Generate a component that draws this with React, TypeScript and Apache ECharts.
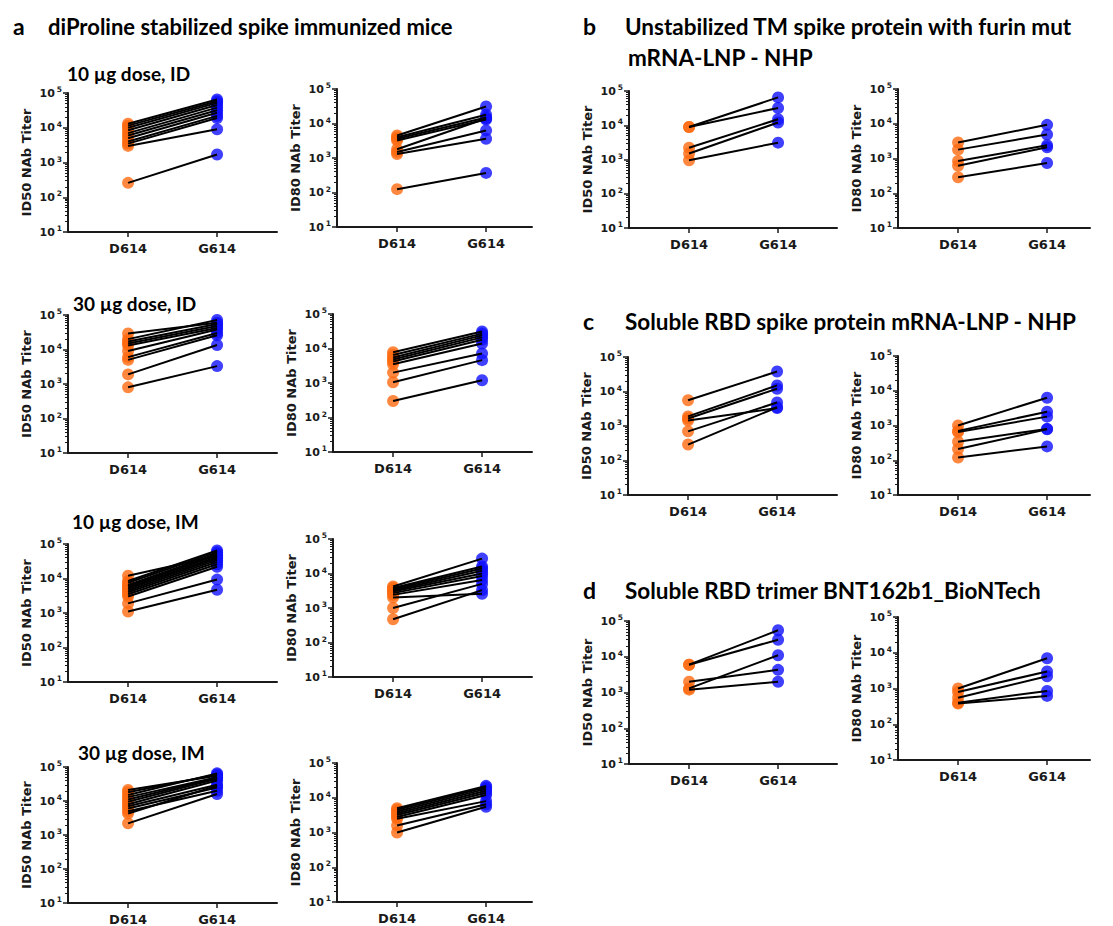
import React, { useEffect, useRef } from 'react';
import * as echarts from 'echarts';

// ---------- data ----------
const categories = ['D614', 'G614'];
const yTickValues = [10, 100, 1000, 10000, 100000];
const yMinorTickValues = [
  20, 30, 40, 50, 60, 70, 80, 90,
  200, 300, 400, 500, 600, 700, 800, 900,
  2000, 3000, 4000, 5000, 6000, 7000, 8000, 9000,
  20000, 30000, 40000, 50000, 60000, 70000, 80000, 90000,
];

// a: diProline stabilized spike immunized mice
const a10ID_ID50_D614 = [13000, 11500, 10000, 8500, 7000, 6000, 5000, 4000, 3500, 3000, 260];
const a10ID_ID50_G614 = [65000, 58000, 52000, 45000, 38000, 32000, 27000, 22000, 19000, 9000, 1700];
const a10ID_ID80_D614 = [4500, 4000, 3600, 3200, 1800, 1500, 1300, 125];
const a10ID_ID80_G614 = [31000, 18000, 15000, 13000, 14000, 6300, 3600, 370];
const a30ID_ID50_D614 = [29000, 20000, 17000, 15000, 13000, 9000, 6000, 5000, 1900, 800];
const a30ID_ID50_G614 = [60000, 72000, 55000, 48000, 42000, 38000, 30000, 26000, 13500, 3300];
const a30ID_ID80_D614 = [7800, 6500, 5500, 4800, 4200, 3500, 2000, 1050, 300];
const a30ID_ID80_G614 = [31000, 27000, 24000, 21000, 18000, 14000, 7200, 4600, 1200];
const a10IM_ID50_D614 = [12000, 8500, 7500, 6500, 6000, 5500, 5000, 4500, 4000, 3500, 3000, 1900, 1100];
const a10IM_ID50_G614 = [45000, 65000, 58000, 52000, 47000, 42000, 38000, 34000, 30000, 26000, 22000, 9300, 4700];
const a10IM_ID80_D614 = [4200, 3800, 3500, 3200, 3000, 2700, 2400, 2000, 1000, 470];
const a10IM_ID80_G614 = [27000, 16000, 14000, 12000, 10000, 8500, 6500, 2600, 5000, 3300];
const a30IM_ID50_D614 = [21000, 18000, 15000, 13000, 11000, 9500, 8000, 7000, 6000, 5000, 4300, 2200];
const a30IM_ID50_G614 = [55000, 60000, 65000, 50000, 48000, 45000, 40000, 30000, 25000, 20000, 28000, 16000];
const a30IM_ID80_D614 = [5000, 4500, 4000, 3600, 3200, 2800, 2500, 1600, 1000];
const a30IM_ID80_G614 = [22000, 20000, 18000, 16000, 14000, 12000, 8000, 6500, 5500];
// b: Unstabilized TM spike protein with furin mut mRNA-LNP - NHP
const bID50_D614 = [8900, 8900, 2200, 1500, 950];
const bID50_G614 = [65000, 32000, 15000, 12000, 3100];
const bID80_D614 = [2900, 1800, 850, 620, 290];
const bID80_G614 = [9300, 4900, 2400, 2100, 740];
// c: Soluble RBD spike protein mRNA-LNP - NHP
const cID50_D614 = [5600, 1900, 1650, 1450, 700, 290];
const cID50_G614 = [38000, 15000, 12000, 3300, 4800, 3500];
const cID80_D614 = [1000, 700, 650, 340, 210, 120];
const cID80_G614 = [6300, 2500, 1800, 800, 780, 250];
// d: Soluble RBD trimer BNT162b1_BioNTech
const dID50_D614 = [6000, 6000, 2000, 1300, 1200];
const dID50_G614 = [55000, 30000, 4300, 11000, 2000];
const dID80_D614 = [1000, 800, 550, 400, 380];
const dID80_G614 = [7000, 3000, 2200, 850, 620];

// ---------- layout ----------
const ORANGE = '#ff6a10';
const BLUE = '#1010ff';
const AXIS_FONT = 'DejaVu Sans';
const TITLE_FONT = 'Lato';

type Panel = { d: number[]; g: number[]; yName: string; box: [number, number, number, number] };

const panels: Panel[] = [
  { d: a10ID_ID50_D614, g: a10ID_ID50_G614, yName: 'ID50 NAb Titer', box: [68, 93, 209, 139] },
  { d: a10ID_ID80_D614, g: a10ID_ID80_G614, yName: 'ID80 NAb Titer', box: [337, 89, 195, 138] },
  { d: a30ID_ID50_D614, g: a30ID_ID50_G614, yName: 'ID50 NAb Titer', box: [68, 315, 209, 138] },
  { d: a30ID_ID80_D614, g: a30ID_ID80_G614, yName: 'ID80 NAb Titer', box: [333, 314, 199, 138] },
  { d: a10IM_ID50_D614, g: a10IM_ID50_G614, yName: 'ID50 NAb Titer', box: [68, 544, 209, 138] },
  { d: a10IM_ID80_D614, g: a10IM_ID80_G614, yName: 'ID80 NAb Titer', box: [333, 539, 199, 138] },
  { d: a30IM_ID50_D614, g: a30IM_ID50_G614, yName: 'ID50 NAb Titer', box: [68, 767, 209, 140] },
  { d: a30IM_ID80_D614, g: a30IM_ID80_G614, yName: 'ID80 NAb Titer', box: [337, 763, 195, 139] },
  { d: bID50_D614, g: bID50_G614, yName: 'ID50 NAb Titer', box: [629, 91, 208, 137] },
  { d: bID80_D614, g: bID80_G614, yName: 'ID80 NAb Titer', box: [898, 89, 192, 139] },
  { d: cID50_D614, g: cID50_G614, yName: 'ID50 NAb Titer', box: [628, 357, 209, 138] },
  { d: cID80_D614, g: cID80_G614, yName: 'ID80 NAb Titer', box: [898, 356, 192, 139] },
  { d: dID50_D614, g: dID50_G614, yName: 'ID50 NAb Titer', box: [629, 621, 208, 143] },
  { d: dID80_D614, g: dID80_G614, yName: 'ID80 NAb Titer', box: [898, 617, 192, 143] },
];

const texts: { t: string; x: number; y: number; size: number }[] = [
  { t: 'a', x: 13, y: 26, size: 23 },
  { t: 'diProline stabilized spike immunized mice', x: 48, y: 26, size: 22 },
  { t: 'b', x: 583, y: 26, size: 23 },
  { t: 'Unstabilized TM spike protein with furin mut', x: 625, y: 26, size: 22.5 },
  { t: 'mRNA-LNP - NHP', x: 628, y: 57, size: 22.5 },
  { t: 'c', x: 583, y: 321, size: 23 },
  { t: 'Soluble RBD spike protein mRNA-LNP - NHP', x: 625, y: 321, size: 22.5 },
  { t: 'd', x: 583, y: 590, size: 23 },
  { t: 'Soluble RBD trimer BNT162b1_BioNTech', x: 625, y: 590, size: 22.5 },
  { t: '10 µg dose, ID', x: 67, y: 73, size: 19 },
  { t: '30 µg dose, ID', x: 73, y: 303, size: 19 },
  { t: '10 µg dose, IM', x: 72, y: 521, size: 19 },
  { t: '30 µg dose, IM', x: 78, y: 752, size: 19 },
];

function buildOption() {
  const grid: any[] = [];
  const xAxis: any[] = [];
  const yAxis: any[] = [];
  const minorAxes: any[] = [];
  const series: any[] = [];
  const XMIN = -0.675;
  const UNIT = 89;
  panels.forEach((p, i) => {
    const [left, top, width, height] = p.box;
    grid.push({ left, top, width, height, containLabel: false });
    xAxis.push({
      type: 'value',
      gridIndex: i,
      min: XMIN,
      max: width / UNIT + XMIN,
      splitLine: { show: false },
      axisLine: { show: true, onZero: false, lineStyle: { color: '#1a1a1a', width: 2 } },
      axisTick: { show: true, customValues: [0, 1], length: 5, lineStyle: { color: '#1a1a1a', width: 1.5 } },
      axisLabel: {
        show: true,
        customValues: [0, 1],
        formatter: (v: number) => categories[Math.round(v)] ?? '',
        fontFamily: AXIS_FONT,
        fontWeight: 'bold',
        fontSize: 13,
        color: '#1a1a1a',
        margin: 10,
      },
    });
    yAxis.push({
      type: 'log',
      logBase: 10,
      gridIndex: i,
      position: 'left',
      min: yTickValues[0],
      max: yTickValues[yTickValues.length - 1],
      name: p.yName,
      nameLocation: 'middle',
      nameGap: 35,
      nameRotate: 90,
      nameTextStyle: { fontFamily: AXIS_FONT, fontWeight: 'bold', fontSize: 13, color: '#1a1a1a' },
      splitLine: { show: false },
      axisLine: { show: true, onZero: false, lineStyle: { color: '#1a1a1a', width: 2 } },
      axisTick: { show: true, length: 5, lineStyle: { color: '#1a1a1a', width: 1.5 } },
      axisLabel: {
        formatter: (v: number) => '10{s|' + Math.round(Math.log10(v)) + '}',
        fontFamily: AXIS_FONT,
        fontWeight: 'bold',
        fontSize: 11,
        color: '#1a1a1a',
        margin: 6,
        rich: {
          s: { fontFamily: AXIS_FONT, fontWeight: 'bold', fontSize: 7.5, color: '#1a1a1a', verticalAlign: 'top', padding: [0, 0, 7, 2] },
        },
      },
    });
    // minor ticks axis (same grid, same scale, ticks only)
    minorAxes.push({
      type: 'log',
      logBase: 10,
      gridIndex: i,
      position: 'left',
      offset: 0,
      min: yTickValues[0],
      max: yTickValues[yTickValues.length - 1],
      splitLine: { show: false },
      axisLine: { show: false, onZero: false },
      axisTick: { show: true, customValues: yMinorTickValues, length: 3, lineStyle: { color: '#1a1a1a', width: 1 } },
      axisLabel: { show: false },
    });
    // points
    series.push({
      type: 'scatter',
      xAxisIndex: i,
      yAxisIndex: i,
      symbol: 'circle',
      symbolSize: 12,
      z: 2,
      itemStyle: { color: ORANGE },
      data: p.d.map((v) => [0, v]),
    });
    series.push({
      type: 'scatter',
      xAxisIndex: i,
      yAxisIndex: i,
      symbol: 'circle',
      symbolSize: 12,
      z: 2,
      itemStyle: { color: BLUE },
      data: p.g.map((v) => [1, v]),
    });
    // paired lines
    p.d.forEach((dv, k) => {
      series.push({
        type: 'line',
        xAxisIndex: i,
        yAxisIndex: i,
        symbol: 'none',
        z: 3,
        lineStyle: { color: '#000', width: 2 },
        data: [[0, dv], [1, p.g[k]]],
      });
    });
  });

  const graphic = texts.map((t) => ({
    type: 'text',
    x: t.x,
    y: t.y,
    style: {
      text: t.t,
      fontFamily: TITLE_FONT,
      fontWeight: 'bold',
      fontSize: t.size,
      fill: '#000',
      verticalAlign: 'middle',
    },
  }));

  return {
    animation: false,
    backgroundColor: '#ffffff',
    grid,
    xAxis,
    yAxis: yAxis.concat(minorAxes),
    series,
    graphic,
  };
}

export default function App() {
  const ref = useRef<HTMLDivElement>(null);
  useEffect(() => {
    if (!ref.current) return;
    const chart = echarts.init(ref.current, null, { renderer: 'svg' });
    chart.setOption(buildOption() as any);
    return () => chart.dispose();
  }, []);
  return (
    <div
      ref={ref}
      style={{ position: 'absolute', left: 0, top: 0, width: 1113, height: 926, background: '#fff' }}
    />
  );
}
